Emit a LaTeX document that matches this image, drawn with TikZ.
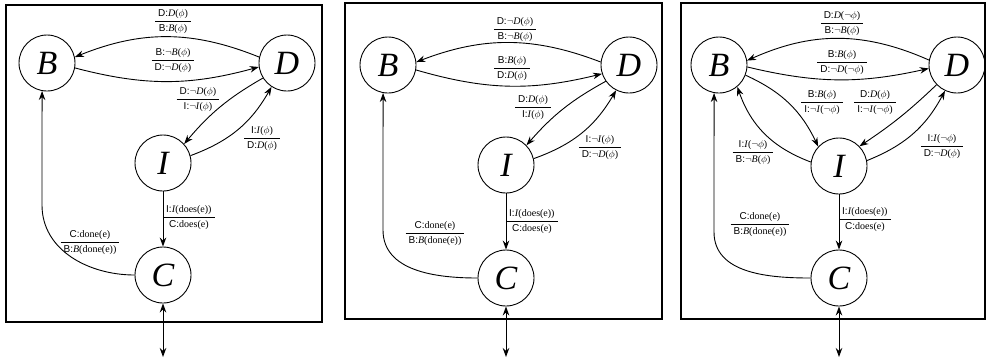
\documentclass[tikz,border=0pt]{standalone}
\usepackage{fontspec}
\setmainfont{Liberation Serif}
\setsansfont{Liberation Sans}
\usetikzlibrary{arrows.meta,calc}
\newcommand\agx[1]{\textsf{#1:}}
\newcommand\frx[2]{{\renewcommand\arraystretch{1.2}\setlength\tabcolsep{3pt}\begin{tabular}{c}#1\\\hline #2\end{tabular}}}
\newcommand\phx{\ensuremath{\phi}}
\newcommand\ntx{\ensuremath{\neg}}
\tikzset{
 st/.style={circle,draw,line width=0.9pt,minimum size=56pt,inner sep=0pt,font=\fontsize{34}{34}\selectfont\itshape},
 lab/.style={inner sep=0pt,font=\fontsize{10}{12}\selectfont},
 ar/.style={line width=0.9pt,-{Stealth[length=9pt,width=6.5pt]}},
 dar/.style={line width=0.9pt,{Stealth[length=9pt,width=6.5pt]}-{Stealth[length=9pt,width=6.5pt]}},
 frame/.style={draw,line width=1.4pt}
}
\begin{document}
\begin{tikzpicture}[x=1pt,y=1pt]
\useasboundingbox (0,0) rectangle (988,-360);
% ---------- panel 1
\draw[frame] (6,-5) rectangle (322,-322);
\node[st] (B1) at (47,-63) {B};
\node[st] (D1) at (287,-63) {D};
\node[st] (I1) at (163,-163) {I};
\node[st] (C1) at (163,-275) {C};
\draw[ar] (D1.168) to[bend right=22] (B1.12);
\draw[ar] (B1.-10) to[bend right=15] (D1.188);
\draw[ar] (D1.212) to[bend right=10] (I1.42);
\draw[ar] (I1.15) to[bend right=20] (D1.237);
\draw[ar] (I1) -- (C1);
\coordinate (k1) at (42,-205);
\draw[ar] (C1.west) to[out=180,in=-90] (k1) -- (B1.260);
\coordinate (o1) at (163,-357);
\draw[dar] (C1) -- (o1);
\node[lab] (l11) at (173,-21) {\frx{\agx{D}\textit{D}(\phx)}{\agx{B}\textit{B}(\phx)}};
\node[lab] (l12) at (173,-60) {\frx{\agx{B}\ntx\textit{B}(\phx)}{\agx{D}\ntx\textit{D}(\phx)}};
\node[lab] (l13) at (198,-99) {\frx{\agx{D}\ntx\textit{D}(\phx)}{\agx{I}\ntx\textit{I}(\phx)}};
\node[lab] (l14) at (262,-138) {\frx{\agx{I}\textit{I}(\phx)}{\agx{D}\textit{D}(\phx)}};
\node[lab,anchor=west] (l15) at (163,-217) {\frx{\agx{I}\textit{I}(does(e))\hspace{6pt}}{\agx{C}does(e)}};
\node[lab] (l16) at (90,-242) {\frx{\agx{C}done(e)}{\agx{B}\textit{B}(done(e))\hspace{4pt}}};
% ---------- panel 2
\draw[frame] (345,-3) rectangle (662,-319);
\node[st] (B2) at (388,-65) {B};
\node[st] (D2) at (629,-65) {D};
\node[st] (I2) at (506,-165) {I};
\node[st] (C2) at (506,-278) {C};
\draw[ar] (D2.174) to[bend right=21] (B2.6);
\draw[ar] (B2.-10) to[bend right=15] (D2.198);
\draw[ar] (D2.215) to[bend right=10] (I2.44);
\draw[ar] (I2.13) to[bend right=20] (D2.243);
\draw[ar] (I2) -- (C2);
\coordinate (k2) at (383,-230);
\draw[ar] (C2.west) to[out=180,in=-90] (k2) -- (B2.260);
\coordinate (o2) at (506,-357);
\draw[dar] (C2) -- (o2);
\node[lab] (l21) at (515,-29) {\frx{\agx{D}\ntx\textit{D}(\phx)}{\agx{B}\ntx\textit{B}(\phx)}};
\node[lab] (l22) at (512,-68) {\frx{\agx{B}\textit{B}(\phx)}{\agx{D}\textit{D}(\phx)}};
\node[lab] (l23) at (533,-107) {\frx{\agx{D}\textit{D}(\phx)}{\agx{I}\textit{I}(\phx)}};
\node[lab] (l24) at (600,-147) {\frx{\agx{I}\ntx\textit{I}(\phx)}{\agx{D}\ntx\textit{D}(\phx)}};
\node[lab,anchor=west] (l25) at (506,-221) {\frx{\agx{I}\textit{I}(does(e))\hspace{6pt}}{\agx{C}does(e)}};
\node[lab] (l26) at (435,-233) {\frx{\agx{C}done(e)}{\agx{B}\textit{B}(done(e))\hspace{4pt}}};
% ---------- panel 3
\draw[frame] (681,-3) rectangle (985,-319);
\node[st] (B3) at (719,-65) {B};
\node[st] (D3) at (957,-65) {D};
\node[st] (I3) at (839,-166) {I};
\node[st] (C3) at (839,-278) {C};
\draw[ar] (D3.170) to[bend right=24] (B3.9);
\draw[ar] (B3.-4) to[bend right=13] (D3.187);
\draw[ar] (B3.-21) to[bend left=20] (I3.137);
\draw[ar] (I3.172) to[bend left=25] (B3.-50);
\draw[ar] (D3.224) to[bend left=5] (I3.44);
\draw[ar] (I3.11) to[bend right=20] (D3.245);
\draw[ar] (I3) -- (C3);
\coordinate (k3) at (714,-232);
\draw[ar] (C3.west) to[out=180,in=-90] (k3) -- (B3.260);
\coordinate (o3) at (839,-357);
\draw[dar] (C3) -- (o3);
\node[lab] (l31) at (842,-23) {\frx{\agx{D}\textit{D}(\ntx\phx)}{\agx{B}\ntx\textit{B}(\phx)}};
\node[lab] (l32) at (842,-62) {\frx{\agx{B}\textit{B}(\phx)}{\agx{D}\ntx\textit{D}(\ntx\phx)}};
\node[lab] (l33) at (822,-102) {\frx{\agx{B}\textit{B}(\phx)}{\agx{I}\ntx\textit{I}(\ntx\phx)}};
\node[lab] (l34) at (875,-102) {\frx{\agx{D}\textit{D}(\phx)}{\agx{I}\ntx\textit{I}(\ntx\phx)}};
\node[lab] (l35) at (753,-152) {\frx{\agx{I}\textit{I}(\ntx\phx)}{\agx{B}\ntx\textit{B}(\phx)}};
\node[lab] (l36) at (942,-146) {\frx{\agx{I}\textit{I}(\ntx\phx)}{\agx{D}\ntx\textit{D}(\phx)}};
\node[lab,anchor=west] (l37) at (839,-219) {\frx{\agx{I}\textit{I}(does(e))\hspace{6pt}}{\agx{C}does(e)}};
\node[lab] (l38) at (760,-224) {\frx{\agx{C}done(e)}{\agx{B}\textit{B}(done(e))\hspace{4pt}}};
\end{tikzpicture}
\end{document}
